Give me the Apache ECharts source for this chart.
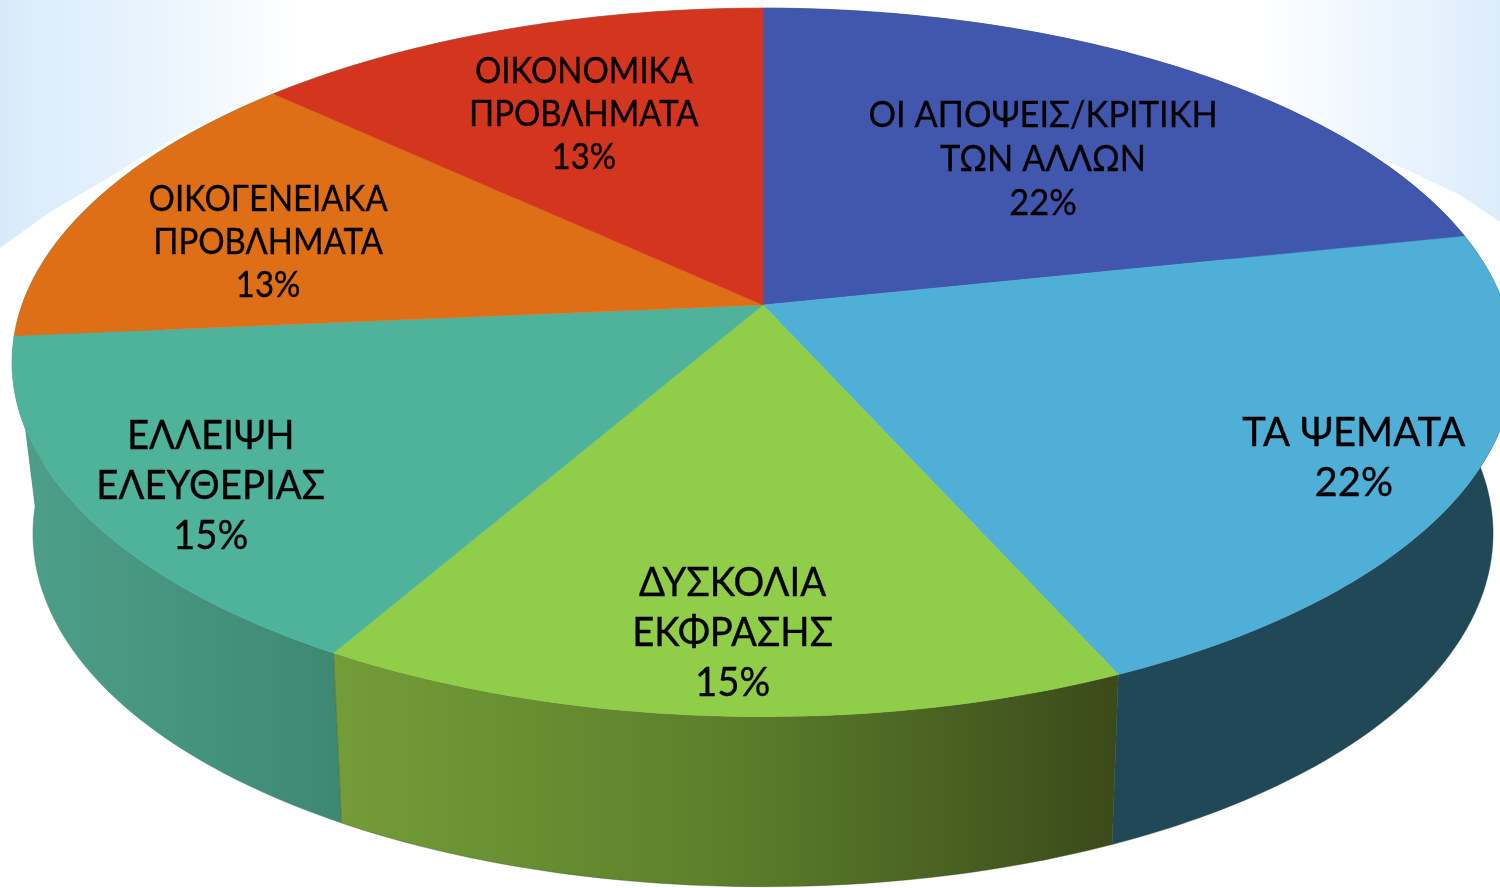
<!DOCTYPE html>
<html><head><meta charset="utf-8">
<style>html,body{margin:0;padding:0;background:#fff}#c{width:1500px;height:888px}</style>
<script src="https://cdn.jsdelivr.net/npm/echarts@6/dist/echarts.min.js"></script>
</head><body><div id="c"></div>
<script>
const categories = ['ΟΙ ΑΠΟΨΕΙΣ/ΚΡΙΤΙΚΗ\nΤΩΝ ΑΛΛΩΝ','ΤΑ ΨΕΜΑΤΑ','ΔΥΣΚΟΛΙΑ\nΕΚΦΡΑΣΗΣ','ΕΛΛΕΙΨΗ\nΕΛΕΥΘΕΡΙΑΣ','ΟΙΚΟΓΕΝΕΙΑΚΑ\nΠΡΟΒΛΗΜΑΤΑ','ΟΙΚΟΝΟΜΙΚΑ\nΠΡΟΒΛΗΜΑΤΑ'];
const values = [21.7,21.6,15.0,15.3,13.3,13.1];
const topColors = ['#4057ad','#4fafd6','#90cd49','#4fb29a','#de6f17','#d3351e'];
const wallStops = [
  ['#214857','#214857'],['#214857','#214857'],
  ['#739d38','#5c7f2b','#3a4a1a'],['#4da089','#3e8873'],
  ['#4da089','#4da089'],['#4da089','#4da089']];
const labelRadius = [.612,.85,.822,.838,.715,.667];
const labelShift = [2.5,1.9,-.4,-2.3,-3.3,.1];
const labelSize = [37,40,40,40,37,37];
const labelLine = [44,50,50,50,43,43];
const labelStretch = [.93,1,.96,.96,.89,.89];

const CX=763, CY=305, A=741, B=345, K=.162, DROP=170, SHRINK=.972, SHRINK_FRONT=.013, FRONT=412;
const total = values.reduce((a,b)=>a+b,0);
function project(deg,r){
  const t=deg*Math.PI/180, u=r*Math.sin(t), d=-r*Math.cos(t), w=1-K*d;
  return [CX+A*u/w, CY+B*d/w];
}
function range(i){
  let s=0; for(let k=0;k<i;k++) s+=values[k];
  return [s/total*360,(s+values[i])/total*360];
}
function arc(i){
  const [a,b]=range(i), pts=[], n=Math.ceil(b-a);
  for(let k=0;k<=n;k++) pts.push(project(a+(b-a)*k/n,1));
  return pts;
}
function lower(p){
  const f=(p[1]-CY)/FRONT, s=SHRINK+SHRINK_FRONT*f*f;
  return [CX+s*(p[0]-CX),p[1]+DROP];
}
function wallItem(params){
  const i=params.dataIndex, rim=arc(i);
  const low=rim.map(lower).reverse();
  const st=wallStops[i];
  const fill=new echarts.graphic.LinearGradient(0,0,1,0,st.map((c,k)=>({offset:k/(st.length-1),color:c})));
  const [a,b]=range(i);
  const mid=(a+b)/2;
  return {type:'polygon',shape:{points:rim.concat(low)},style:{fill:fill,stroke:st[st.length-1],lineWidth:.4},
    z2:Math.round(180-Math.abs(mid-180))};
}
function topItem(params){
  const i=params.dataIndex, [a,b]=range(i);
  const pos=project((a+b)/2+labelShift[i],labelRadius[i]);
  return {type:'group',children:[
    {type:'polygon',shape:{points:[[CX,CY]].concat(arc(i))},style:{fill:topColors[i],stroke:topColors[i],lineWidth:.5},z2:1},
    {type:'text',z2:10,x:pos[0],y:pos[1]+1.5,scaleX:labelStretch[i],style:{text:categories[i]+'\n'+Math.round(values[i]/total*100)+'%',x:0,y:0,
      fill:'#000',stroke:'#000',lineWidth:.35,font:labelSize[i]+'px Lato, "Noto Sans"',lineHeight:labelLine[i],align:'center',verticalAlign:'middle'}}
  ]};
}
const chart=echarts.init(document.getElementById('c'));
const rows=values.map((v,i)=>[v,categories[i]]);
chart.setOption({
  animation:false,
  backgroundColor:'#fff',
  graphic:{elements:[
    {type:'polygon',silent:true,z:-10,shape:{points:[[0,0],[560,0],[400,48],[267,97],[183,133],[140,158],[110,177],[50,212],[0,248]]},
     style:{fill:new echarts.graphic.LinearGradient(0,0,1,0,[{offset:0,color:'#d8eafa'},{offset:.2,color:'#e3f1fc'},{offset:.35,color:'#eff7fe'},{offset:.54,color:'#ffffff'},{offset:1,color:'#ffffff'}])}},
    {type:'polygon',silent:true,z:-10,shape:{points:[[1500,0],[1500,222],[1460,195],[1407,170],[1377,157],[1300,120],[1200,70],[1100,0]]},
     style:{fill:new echarts.graphic.LinearGradient(0,0,1,0,[{offset:0,color:'#ffffff'},{offset:.38,color:'#ffffff'},{offset:.7,color:'#ecf5fd'},{offset:1,color:'#dcecfb'}])}}
  ]},
  series:[
    {type:'custom',coordinateSystem:'none',z:2,silent:true,renderItem:wallItem,data:rows},
    {type:'custom',coordinateSystem:'none',z:3,silent:true,renderItem:topItem,data:rows}
  ]
});
</script></body></html>
